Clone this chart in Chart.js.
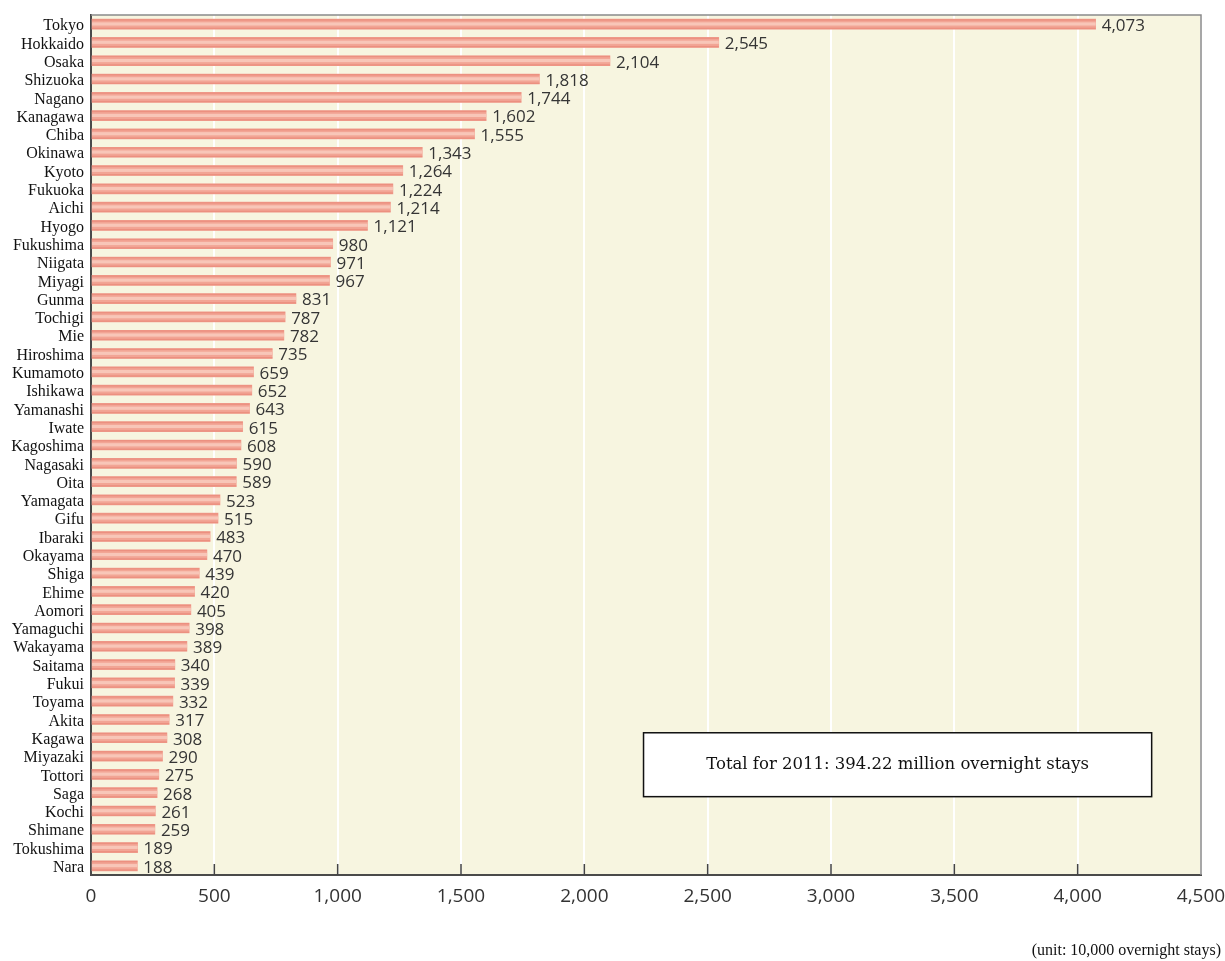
<!DOCTYPE html>
<html>
<head>
<meta charset="utf-8">
<script src="https://cdn.jsdelivr.net/npm/chart.js@4/dist/chart.umd.min.js"></script>
<style>
  html, body { margin: 0; padding: 0; background: #ffffff; }
  #wrap { width: 1225px; height: 961px; position: relative; }
</style>
</head>
<body>
<div id="wrap"><canvas id="chart"></canvas></div>
<script>
// Overnight stays by prefecture, 2011 (unit: 10,000 overnight stays)
const prefectures = [
  "Tokyo", "Hokkaido", "Osaka", "Shizuoka", "Nagano", "Kanagawa", "Chiba", "Okinawa",
  "Kyoto", "Fukuoka", "Aichi", "Hyogo", "Fukushima", "Niigata", "Miyagi", "Gunma",
  "Tochigi", "Mie", "Hiroshima", "Kumamoto", "Ishikawa", "Yamanashi", "Iwate", "Kagoshima",
  "Nagasaki", "Oita", "Yamagata", "Gifu", "Ibaraki", "Okayama", "Shiga", "Ehime",
  "Aomori", "Yamaguchi", "Wakayama", "Saitama", "Fukui", "Toyama", "Akita", "Kagawa",
  "Miyazaki", "Tottori", "Saga", "Kochi", "Shimane", "Tokushima", "Nara"
];
const stays = [
  4073, 2545, 2104, 1818, 1744, 1602, 1555, 1343,
  1264, 1224, 1214, 1121, 980, 971, 967, 831,
  787, 782, 735, 659, 652, 643, 615, 608,
  590, 589, 523, 515, 483, 470, 439, 420,
  405, 398, 389, 340, 339, 332, 317, 308,
  290, 275, 268, 261, 259, 189, 188
];
const xTicks = [0, 500, 1000, 1500, 2000, 2500, 3000, 3500, 4000, 4500];
const totalNote = "Total for 2011: 394.22 million overnight stays";
const unitNote = "(unit: 10,000 overnight stays)";

const SERIF = '"Liberation Serif", "DejaVu Serif", serif';
const WIDE_SERIF = '"DejaVu Serif", "Liberation Serif", serif';
const SANS = '"Open Sans", "Noto Sans", sans-serif';

// cream plot background
const plotBackground = {
  id: 'plotBackground',
  beforeDraw(chart) {
    const { ctx, chartArea: a } = chart;
    ctx.save();
    ctx.fillStyle = '#f7f5e0';
    ctx.fillRect(a.left, a.top, a.right - a.left, a.bottom - a.top);
    ctx.restore();
  }
};

// striped bar shading, value labels, frame, inner ticks and notes
const decorations = {
  id: 'decorations',
  afterDatasetsDraw(chart) {
    const { ctx } = chart;
    const meta = chart.getDatasetMeta(0);
    ctx.save();
    meta.data.forEach((bar, i) => {
      const top = bar.y - bar.height / 2;
      const left = bar.base;
      const w = bar.x - bar.base;
      ctx.fillStyle = '#ec9080';
      ctx.fillRect(left, top, w, 1.5);
      ctx.fillRect(left, top + bar.height - 1.5, w, 1.5);
      ctx.fillStyle = '#f8c6b8';
      ctx.fillRect(left, bar.y - 1.8, w, 3.2);
      ctx.fillStyle = '#353535';
      ctx.font = '17px ' + SANS;
      ctx.textAlign = 'left';
      ctx.textBaseline = 'middle';
      ctx.fillText(stays[i].toLocaleString('en-US'), bar.x + 6, bar.y + 2);
    });
    ctx.restore();
  },
  afterDraw(chart) {
    const { ctx, chartArea: a, scales } = chart;
    const x = scales.x, y = scales.y;
    ctx.save();
    // top and right frame
    ctx.strokeStyle = '#8a8a8a';
    ctx.lineWidth = 1.5;
    ctx.beginPath();
    ctx.moveTo(a.left, a.top);
    ctx.lineTo(a.right, a.top);
    ctx.lineTo(a.right, a.bottom);
    ctx.stroke();
    // short ticks rising from the x axis
    ctx.strokeStyle = '#444';
    ctx.lineWidth = 1.5;
    xTicks.slice(1, -1).forEach(v => {
      const px = x.getPixelForValue(v);
      ctx.beginPath();
      ctx.moveTo(px, a.bottom);
      ctx.lineTo(px, a.bottom - 11);
      ctx.stroke();
    });
    // total note box
    const bx0 = x.getPixelForValue(2240);
    const bx1 = x.getPixelForValue(4300);
    const by0 = y.getPixelForValue(39) - 5;
    const by1 = y.getPixelForValue(42) + 4;
    ctx.fillStyle = '#ffffff';
    ctx.fillRect(bx0, by0, bx1 - bx0, by1 - by0);
    ctx.strokeStyle = '#111';
    ctx.lineWidth = 1.5;
    ctx.strokeRect(bx0, by0, bx1 - bx0, by1 - by0);
    ctx.fillStyle = '#111';
    ctx.font = '16.5px ' + WIDE_SERIF;
    ctx.textAlign = 'center';
    ctx.textBaseline = 'middle';
    ctx.fillText(totalNote, (bx0 + bx1) / 2, (by0 + by1) / 2);
    // unit note
    ctx.font = '16px ' + SERIF;
    ctx.textAlign = 'right';
    ctx.textBaseline = 'alphabetic';
    ctx.fillText(unitNote, chart.width - 4, chart.height - 6);
    ctx.restore();
  }
};

new Chart(document.getElementById('chart'), {
  type: 'bar',
  data: {
    labels: prefectures,
    datasets: [{
      data: stays,
      backgroundColor: '#f2a595',
      borderWidth: 0,
      barThickness: 10
    }]
  },
  options: {
    indexAxis: 'y',
    responsive: true,
    maintainAspectRatio: false,
    animation: false,
    layout: { padding: { top: 15, right: 24, left: 0, bottom: 0 } },
    plugins: {
      legend: { display: false },
      tooltip: { enabled: false }
    },
    scales: {
      x: {
        type: 'linear',
        min: 0,
        max: 4500,
        afterFit(scale) {
          scale.height = 86;
          scale.paddingLeft = 0;
          scale.paddingRight = 0;
        },
        afterBuildTicks(scale) { scale.ticks = xTicks.map(v => ({ value: v })); },
        grid: {
          color: '#ffffff',
          lineWidth: 2,
          drawTicks: false
        },
        border: { display: true, color: '#4a4a4a', width: 2 },
        ticks: {
          padding: 10,
          color: '#333333',
          font: { family: SANS, size: 19 },
          callback: v => Number(v).toLocaleString('en-US')
        }
      },
      y: {
        afterFit(scale) {
          scale.width = 91;
          scale.paddingTop = 0;
          scale.paddingBottom = 0;
        },
        grid: { display: false, drawTicks: false },
        border: { display: true, color: '#4a4a4a', width: 2 },
        ticks: {
          padding: 7,
          labelOffset: 2,
          color: '#111111',
          autoSkip: false,
          font: { family: SERIF, size: 16 }
        }
      }
    }
  },
  plugins: [plotBackground, decorations]
});
</script>
</body>
</html>
